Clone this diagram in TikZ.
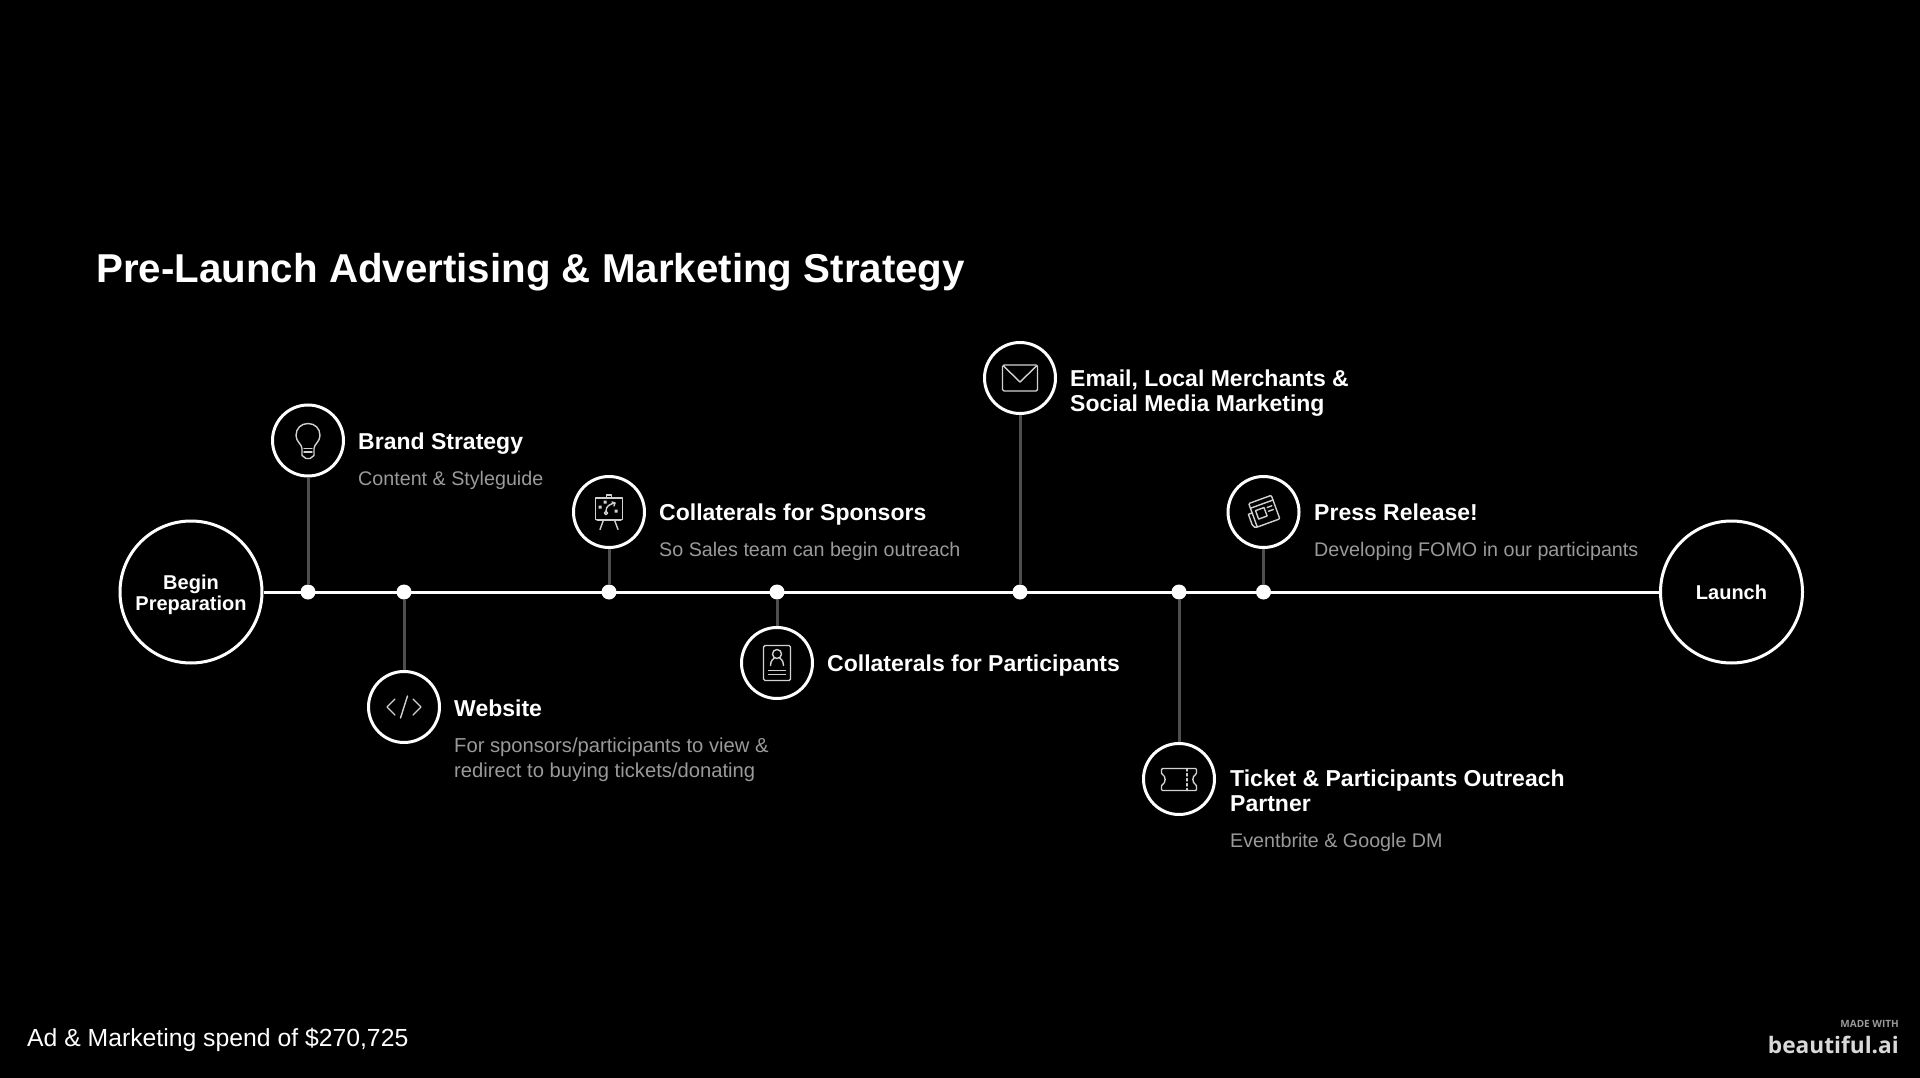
\documentclass[tikz,border=0pt]{standalone}
\usepackage{fontspec}
\setmainfont{Liberation Sans}
\newfontfamily\logofont{Open Sans}
\usetikzlibrary{positioning}
\definecolor{stemgray}{HTML}{4E4E4E}
\definecolor{subgray}{HTML}{9A9A9A}
\tikzstyle{bigvertex}=[circle,draw=white,line width=3pt,fill=black,minimum size=142pt,inner sep=0pt,text=white,font=\fontsize{20}{21}\selectfont\bfseries,align=center]
\tikzstyle{iconvertex}=[circle,draw=white,line width=3pt,fill=black,minimum size=71pt,inner sep=0pt]
\tikzstyle{dotvertex}=[circle,fill=white,minimum size=15pt,inner sep=0pt]
\tikzstyle{stem}=[draw=stemgray,line width=3pt]
\tikzstyle{iconline}=[draw=white!82!black,line width=1.4pt,line join=round,line cap=round]
\tikzstyle{headtext}=[anchor=base west,inner sep=0pt,text=white,align=left,font=\fontsize{23}{24.5}\selectfont\bfseries]
\tikzstyle{subtext}=[anchor=base west,inner sep=0pt,text=subgray,align=left,font=\fontsize{19.7}{25}\selectfont]
\tikzstyle{subtextwide}=[subtext,font=\fontsize{20.2}{25}\selectfont]

\newcommand{\iconbulb}{
  \draw[iconline] (-6,15) -- (-6,8) .. controls (-6,4) and (-12,1) .. (-12,-5) .. controls (-12,-12) and (-7,-17) .. (0,-17) .. controls (7,-17) and (12,-12) .. (12,-5) .. controls (12,1) and (6,4) .. (6,8) -- (6,15) -- (2,18) -- (-2,18) -- cycle;
  \draw[iconline] (-4,8) -- (4,8) (-4,11.5) -- (4,11.5);
}
\newcommand{\iconcode}{
  \draw[iconline] (-9,-8) -- (-17,0) -- (-9,8);
  \draw[iconline] (9,-8) -- (17,0) -- (9,8);
  \draw[iconline] (3.5,-11) -- (-3.5,11);
}
\newcommand{\iconboard}{
  \draw[iconline] (-13.7,-14) rectangle (13.7,7.7);
  \draw[iconline] (-2.5,-14) -- (-2.5,-17) -- (2.5,-17) -- (2.5,-14);
  \draw[iconline] (-12,8) -- (12,8);
  \draw[iconline] (-5.5,8) -- (-9,17.5) (5.5,8) -- (9,17.5);
  \draw[iconline] (-3,-1) .. controls (-3,-6) and (1,-8) .. (6,-9);
  \draw[iconline] (3,-10) -- (6,-9) -- (5,-6);
  \draw[iconline] (-3,1) circle (1.6);
  \fill[white!82!black] (-5.5,-11.5) rectangle (-2.5,-8.5) (-10.5,-6.5) rectangle (-7.5,-3.5) (5.5,-2.5) rectangle (8.5,0.5);
}
\newcommand{\iconcard}{
  \draw[iconline,rounded corners=1.5pt] (-13.5,-17.5) rectangle (13.5,17.5);
  \draw[iconline] (0,-9) circle (4.5);
  \draw[iconline] (-6.5,2.5) .. controls (-6.5,-3) and (-3,-4.5) .. (-2.5,-5);
  \draw[iconline] (6.5,2.5) .. controls (6.5,-3) and (3,-4.5) .. (2.5,-5);
  \draw[iconline] (-8.5,7.5) -- (8.5,7.5) (-8.5,11.5) -- (8.5,11.5);
}
\newcommand{\iconmail}{
  \draw[iconline,rounded corners=1.5pt] (-17.5,-13) rectangle (17.5,13);
  \draw[iconline] (-16.5,-12) -- (0,4) -- (16.5,-12);
}
\newcommand{\iconticket}{
  \draw[iconline,rounded corners=1pt] (-17.5,-10.5) -- (17.5,-10.5) -- (17.5,-5) .. controls (13,-3) and (13,4) .. (17.5,6) -- (17.5,11.5) -- (-17.5,11.5) -- (-17.5,6) .. controls (-13,4) and (-13,-3) .. (-17.5,-5) -- cycle;
  \draw[iconline,dash pattern=on 2.5pt off 2.5pt] (8,-10.5) -- (8,11.5);
}
\newcommand{\iconnews}{
  \draw[iconline,rounded corners=1pt] (-11,-13) rectangle (13,12);
  \draw[iconline] (-11,-8) -- (13,-8);
  \draw[iconline] (-7,-4) rectangle (2,5);
  \draw[iconline] (5,-3) -- (10,-3) (5,1) -- (10,1);
  \draw[iconline] (-11,-3) -- (-15,-3) -- (-15,8) .. controls (-15,11) and (-13,12) .. (-11,12);
}

\begin{document}
\begin{tikzpicture}[x=1pt,y=-1pt]

  \fill[black] (0,0) rectangle (1920,1078);
  \useasboundingbox (0,0) rectangle (1920,1078);

  \def\ly{592};

  \node[bigvertex] (begin) at (191,\ly) {\rule{0pt}{20pt}Begin\\Preparation};
  \node[bigvertex] (launch) at (1731.5,\ly) {Launch};

  % dots and icon circles
  \foreach \x/\y/\name in {308/440.5/brand, 404/707/web, 609/512/sponsors, 777/663/participants, 1020/378/mail, 1179/779/ticket, 1263.5/512/press} {
    \node[dotvertex] (dot\name) at (\x,\ly) {};
    \node[iconvertex] (\name) at (\x,\y) {};
    \draw[stem] (dot\name) -- (\name);
  }
  \draw[white,line width=3pt] (begin) -- (launch);

  \begin{scope}[shift={(brand)}] \iconbulb \end{scope}
  \begin{scope}[shift={(web)}] \iconcode \end{scope}
  \begin{scope}[shift={(sponsors)}] \iconboard \end{scope}
  \begin{scope}[shift={(participants)}] \iconcard \end{scope}
  \begin{scope}[shift={(mail)}] \iconmail \end{scope}
  \begin{scope}[shift={(ticket)}] \iconticket \end{scope}
  \begin{scope}[shift={(press)},rotate=20] \iconnews \end{scope}

  % labels
  \foreach \x/\y/\name/\label in {358/449/brandhead/{Brand Strategy}, 454/716/webhead/{Website}, 659/520/sponsorshead/{Collaterals for Sponsors}, 827/671/participantshead/{Collaterals for Participants}, 1070/411/mailhead/{Email, Local Merchants \&\\Social Media Marketing}, 1230/811/tickethead/{Ticket \& Participants Outreach\\Partner}, 1314/520/presshead/{Press Release!}}
    \node[headtext] (\name) at (\x,\y) {\label};

  \foreach \x/\y/\name/\label in {358/485/brandsub/{Content \& Styleguide}, 659/556/sponsorssub/{So Sales team can begin outreach}, 1230/847/ticketsub/{Eventbrite \& Google DM}, 1314/556/presssub/{Developing FOMO in our participants}}
    \node[subtext] (\name) at (\x,\y) {\label};
  \node[subtextwide] (websub) at (454,777) {For sponsors/participants to view \&\\redirect to buying tickets/donating};

  \node[anchor=base west,inner sep=0pt,text=white,font=\fontsize{40.3}{40}\selectfont\bfseries] (title) at (96,282) {Pre-Launch Advertising \& Marketing Strategy};
  \node[anchor=base west,inner sep=0pt,text=white,font=\fontsize{24.75}{25}\selectfont] (spend) at (27,1046) {Ad \& Marketing spend of \$270,725};

  \node[anchor=base east,inner sep=0pt,text=subgray,font=\logofont\fontsize{10}{10}\selectfont\bfseries] (made) at (1899,1027) {MADE WITH};
  \node[anchor=base east,inner sep=0pt,text=white!85!black,font=\logofont\fontsize{22.7}{24}\selectfont\bfseries] (logo) at (1899,1053) {beautiful.ai};

\end{tikzpicture}
\end{document}
